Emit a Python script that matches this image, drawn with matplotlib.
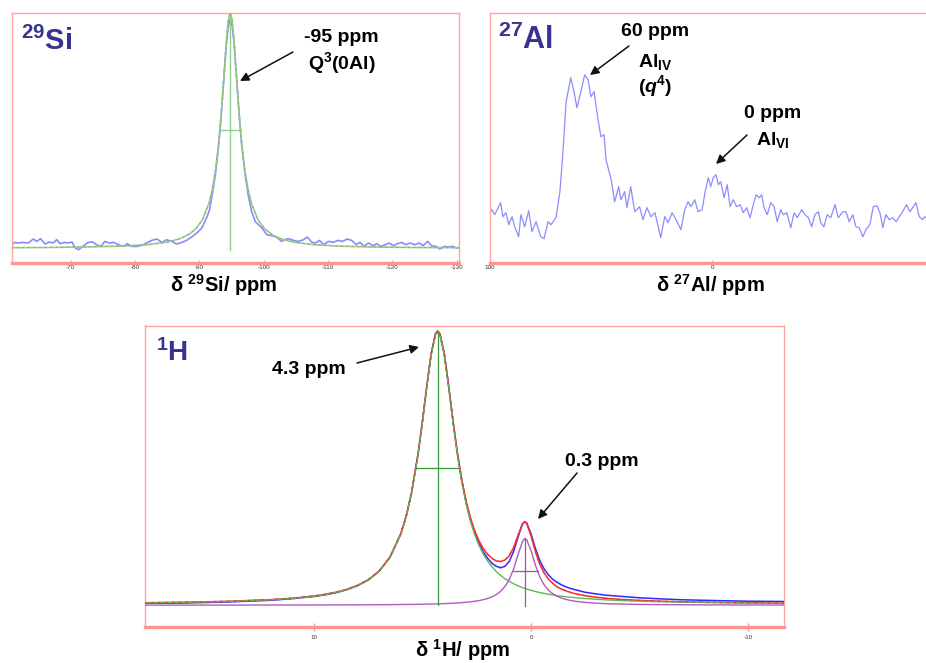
import matplotlib
matplotlib.use("Agg")
import matplotlib.pyplot as plt
from matplotlib.patches import FancyArrowPatch

plt.rcParams['font.family'] = ['Liberation Sans', 'DejaVu Sans']
plt.rcParams['mathtext.fontset'] = 'custom'
plt.rcParams['mathtext.rm'] = 'Liberation Sans'
plt.rcParams['mathtext.it'] = 'Liberation Sans:italic'
plt.rcParams['mathtext.bf'] = 'Liberation Sans:bold'
plt.rcParams['mathtext.bfit'] = 'Liberation Sans:italic:bold'
plt.rcParams['mathtext.sf'] = 'Liberation Sans'

si_ppm = [-60.8, -61.3, -61.9, -62.6, -63.4, -64.2, -64.7, -65.3, -66.0, -66.7,
          -67.3, -67.8, -68.4, -69.0, -69.6, -70.2, -70.7, -71.2, -71.9, -72.7,
          -73.4, -74.0, -74.7, -75.3, -76.0, -76.7, -77.4, -78.2, -78.8, -79.5,
          -80.3, -81.0, -81.8, -82.6, -83.4, -84.2, -84.9, -85.7, -86.5, -87.3,
          -88.0, -88.8, -89.6, -90.4, -91.2, -91.6, -92.0, -92.5, -93.0, -93.4,
          -93.8, -94.2, -94.5, -94.8, -95.1, -95.4, -95.8, -96.2, -96.6, -97.1,
          -97.6, -98.1, -98.7, -99.7, -100.5, -101.3, -102.0, -102.8, -103.5, -104.1,
          -104.6, -105.4, -106.2, -106.8, -107.5, -108.1, -108.7, -109.3, -110.1, -110.8,
          -111.6, -112.3, -113.0, -113.7, -114.4, -115.0, -115.6, -116.3, -117.0, -117.6,
          -118.2, -118.9, -119.5, -120.2, -120.8, -121.5, -122.1, -122.8, -123.5, -124.2,
          -124.8, -125.5, -126.1, -126.8, -127.4, -128.1, -128.7, -129.4, -130.0, -130.4]
si_int = [18, 20.3, 19.7, 20.3, 19.7, 23.7, 21.3, 24, 18.7, 20.7,
          19.7, 23, 19, 20.3, 19.7, 20.7, 14.7, 13, 16.3, 20.3,
          20.7, 18, 16.3, 21.3, 19.7, 20.3, 18, 16.3, 19, 16.3,
          16.3, 17.3, 19.7, 22.3, 23.7, 20.3, 23, 21.3, 18.7, 20.3,
          22.3, 25.7, 29.7, 34.7, 46, 53, 68, 88, 117, 147,
          183, 218, 236, 243, 237, 220, 184, 147, 117, 89,
          68, 52, 41, 35, 28, 27, 25.7, 21.3, 23.7, 23.7,
          22.3, 21.3, 23, 25.7, 20.3, 19.7, 22.3, 18, 21.3, 20.3,
          22.3, 21.3, 23.7, 22.3, 18, 20.3, 16.3, 19.7, 17, 19,
          16.3, 18, 19.7, 17, 19, 20.3, 18, 19.7, 18, 19.7,
          17, 21.3, 17, 16.3, 13.7, 16.3, 15.7, 16.3, 14.7, 15]

# 29Si fitted component
si_fit_ppm = [-60.8, -66, -72, -78, -82, -85, -87, -88.5, -89.5, -90.5,
              -91.5, -92, -92.5, -93, -93.4, -93.8, -94.2, -94.5, -94.8, -95.1,
              -95.4, -95.8, -96.2, -96.6, -97.1, -97.6, -98.1, -99.1, -100.1, -101.5,
              -103, -105, -108, -112, -118, -124, -130.4]
si_fit_int = [15.0, 15.2, 15.7, 16.6, 18.1, 20.6, 24.0, 28.8, 34.2, 43.2,
              59.4, 72.6, 91.5, 118.7, 148.2, 184.2, 221.4, 242.5, 250.5, 242.5,
              221.4, 184.2, 148.2, 118.7, 91.5, 72.6, 59.4, 43.2, 34.2, 27.2,
              23.2, 20.2, 17.9, 16.5, 15.6, 15.2, 15.0]
si_peak = -94.8          # centre (ppm)
si_base = 14.0           # baseline level
si_top = 250.5           # peak maximum
si_half = 132.3          # half-height level
si_fwhm = 3.2            # full width at half maximum (ppm)
si_ticks = [-70, -80, -90, -100, -110, -120, -130]

# ---------------- 27Al spectrum ----------------
al_ppm = [100.0, 99.1, 97.9, 95.2, 94.2, 92.8, 91.6, 90.1, 88.9, 87.1,
          86.1, 84.4, 82.6, 81.1, 79.3, 77.2, 75.7, 73.9, 72.6, 70.3,
          68.6, 67.2, 65.8, 63.7, 62.2, 60.9, 59.2, 57.4, 55.9, 54.6,
          53.2, 51.4, 50.1, 48.7, 47.8, 45.5, 43.9, 42.1, 41.1, 39.4,
          38.4, 36.7, 34.9, 32.7, 31.2, 29.4, 27.6, 25.8, 23.2, 21.4,
          19.9, 18.1, 16.3, 14.1, 12.4, 10.9, 9.6, 7.9, 6.4, 4.6,
          3.3, 1.8, 0.7, -0.4, -1.7, -2.7, -3.8, -5.3, -6.7, -8.0,
          -9.4, -11.0, -12.5, -13.9, -15.5, -17.0, -18.2, -19.7, -21.1, -22.2,
          -23.3, -24.7, -26.3, -27.8, -29.2, -30.8, -31.9, -33.5, -35.3, -36.8,
          -38.2, -40.2, -41.7, -43.2, -44.7, -46.2, -47.7, -48.8, -50.2, -51.7,
          -53.3, -55.2, -56.7, -58.7, -60.1, -61.6, -63.2, -64.6, -66.1, -67.7,
          -69.1, -70.9, -72.4, -74.0, -75.4, -76.7, -78.1, -79.6, -81.2, -82.7,
          -84.1, -85.3, -87.4, -88.9, -90.4, -91.6, -93.1, -94.6, -95.7, -97.0]
al_int = [50, 53, 48, 60, 46, 50, 38, 46, 36, 26,
          48, 36, 52, 31, 41, 26, 24, 41, 38, 45,
          70, 110, 160, 185, 171, 155, 170, 188, 183, 166,
          171, 143, 126, 128, 103, 83, 61, 76, 63, 71,
          55, 76, 51, 56, 43, 55, 46, 50, 25, 46,
          40, 50, 43, 33, 53, 61, 56, 63, 51, 53,
          70, 85, 76, 85, 88, 78, 81, 65, 78, 56,
          63, 56, 58, 50, 55, 45, 56, 68, 65, 68,
          55, 48, 60, 56, 41, 53, 48, 50, 35, 50,
          45, 53, 48, 45, 36, 48, 51, 40, 36, 48,
          45, 58, 45, 51, 51, 41, 48, 36, 35, 26,
          33, 38, 56, 57, 50, 35, 48, 43, 45, 41,
          46, 50, 58, 51, 56, 60, 46, 43, 46, 44]
al_ticks = [100, 0]

# ---------------- 1H spectrum and fit ----------------
h_ppm = [17.8, 16, 14, 12, 11, 10, 9.5, 9, 8.5, 8,
         7.5, 7, 6.5, 6, 5.75, 5.5, 5.2, 5.0, 4.8, 4.6,
         4.4, 4.3, 4.2, 4.0, 3.8, 3.6, 3.4, 3.2, 3.0, 2.8,
         2.6, 2.4, 2.2, 2.0, 1.8, 1.6, 1.4, 1.2, 1.0, 0.8,
         0.6, 0.4, 0.3, 0.2, 0.0, -0.2, -0.4, -0.6, -0.8, -1.0,
         -1.2, -1.4, -1.6, -1.8, -2.1, -2.5, -3, -3.5, -4, -5,
         -6, -7, -8, -9, -10, -11.7]
h_exp = [1.0, 1.3, 2.3, 4.0, 5.6, 7.8, 9.4, 11.5, 14.5, 18.5,
         24.3, 33, 47, 70.5, 88.3, 112, 151, 183.5, 218.5, 250.5,
         270.5, 273, 270.5, 251, 219, 184, 152, 125, 103, 85.5,
         71.5, 61, 52.5, 46, 41, 38, 36.5, 38, 43, 53,
         67, 80, 82.5, 81.5, 70.5, 56, 44, 35.5, 29.5, 25,
         22.0, 19.5, 17.6, 16, 14.2, 12, 10.4, 9, 8.2, 6.5,
         5.4, 4.5, 4.0, 3.5, 3.1, 2.8]
h_sum = [1.55, 2.05, 2.98, 4.67, 6.12, 8.36, 9.96, 12.1, 14.9, 18.9,
         24.6, 33.3, 47.2, 70.6, 88.4, 112.3, 151.2, 183.6, 218.7, 250.7,
         270.6, 273.4, 270.7, 251.1, 219.4, 184.5, 152.5, 125.6, 104.0, 87.0,
         73.8, 63.6, 55.8, 50.0, 45.9, 43.4, 42.8, 44.3, 48.7, 56.8,
         68.8, 80.2, 82.4, 80.9, 68.7, 53.0, 40.3, 31.4, 25.2, 20.9,
         17.4, 15.3, 13.45, 12.0, 10.24, 8.6, 7.04, 5.9, 5.1, 3.9,
         3.1, 2.5, 2.12, 1.8, 1.53, 1.2]
h_comp1 = [1.48, 1.97, 2.86, 4.51, 5.93, 8.12, 9.70, 11.8, 14.59, 18.5,
           24.2, 32.8, 46.6, 69.9, 87.7, 111.5, 150.3, 182.6, 217.6, 249.5,
           269.3, 272, 269.3, 249.5, 217.6, 182.6, 150.3, 123.1, 101.1, 83.7,
           69.9, 59.0, 50.3, 43.2, 37.5, 32.8, 28.9, 25.6, 22.9, 20.5,
           18.5, 16.8, 16.0, 15.3, 14.0, 12.8, 11.8, 10.9, 10.1, 9.4,
           8.43, 8.1, 7.60, 7.1, 6.48, 5.8, 5.01, 4.4, 3.89, 3.1,
           2.54, 2.1, 1.79, 1.5, 1.32, 1.06]
h_comp2 = [-0.83, -0.82, -0.78, -0.74, -0.71, -0.66, -0.64, -0.61, -0.57, -0.53,
           -0.47, -0.41, -0.33, -0.22, -0.16, -0.09, 0.01, 0.09, 0.17, 0.27,
           0.39, 0.45, 0.52, 0.67, 0.85, 1.06, 1.31, 1.61, 1.97, 2.43,
           2.99, 3.70, 4.62, 5.83, 7.47, 9.7, 13.0, 17.8, 24.9, 35.4,
           49.4, 62.5, 65.5, 64.7, 53.8, 39.3, 27.6, 19.6, 14.2, 10.6,
           8.07, 6.27, 4.95, 3.95, 2.86, 1.9, 1.13, 0.64, 0.31, -0.1,
           -0.34, -0.48, -0.57, -0.64, -0.69, -0.74]
h_peaks = [4.3, 0.27]            # component centres (ppm)
h_tops = [272, 66.6]             # component maxima
h_fwhm = [2.0, 1.16]             # component widths (ppm)
h_ticks = [10, 0, -10]

# ---------------- figure ----------------
W, H = 926, 663
fig = plt.figure(figsize=(W / 100, H / 100), dpi=100)
FRAME = '#ffa3a3'
AXLINE = '#ff9494'
TITLE = '#35358f'


def panel(l, t, r, b):
    ax = fig.add_axes([l / W, 1 - b / H, (r - l) / W, (b - t) / H])
    for s in ['left', 'right', 'top']:
        ax.spines[s].set_color(FRAME)
        ax.spines[s].set_linewidth(1.0)
    ax.spines['bottom'].set_color(AXLINE)
    ax.spines['bottom'].set_linewidth(2.4)
    ax.set_yticks([])
    ax.tick_params(axis='x', direction='in', length=2, width=0.8, color=AXLINE,
                   labelsize=4.5, labelcolor='#333333', pad=2)
    return ax


def txt(x, y, s, **kw):
    fig.text(x / W, 1 - y / H, s, **kw)


def arrow(x0, y0, x1, y1):
    fig.add_artist(FancyArrowPatch((x0 / W, 1 - y0 / H), (x1 / W, 1 - y1 / H),
                                   transform=fig.transFigure, arrowstyle='-|>',
                                   mutation_scale=13, lw=1.1, color='#111111',
                                   shrinkA=0, shrinkB=0))


# ----- 29Si panel -----
ax1 = panel(11.7, 12.7, 459.3, 262.7)
ax1.plot(si_ppm, si_int, color='#8a8aff', lw=1.2, zorder=2)
ax1.plot(si_fit_ppm, si_fit_int, color='#8fcf8f', lw=1.2, zorder=3)
ax1.plot(si_fit_ppm, si_fit_int, color='#d08050', lw=0.8, ls=(0, (1, 4)), zorder=4)
ax1.plot([si_peak, si_peak], [si_base - 1, si_top], color='#8fcf8f', lw=1.0, zorder=3)
ax1.plot([si_peak + si_fwhm / 2, si_peak - si_fwhm / 2], [si_half, si_half],
         color='#8fcf8f', lw=1.0, zorder=3)
ax1.set_xlim(-60.82, -130.43)
ax1.set_ylim(0, 250)
ax1.set_xticks(si_ticks)
ax1.set_xticklabels([str(t) for t in si_ticks])

# ----- 27Al panel -----
ax2 = panel(490, 12.7, 934.6, 262.7)
ax2.plot(al_ppm, al_int, color='#8c8cff', lw=0.9)
ax2.set_xlim(100, -100)
ax2.set_ylim(0, 250)
ax2.set_xticks(al_ticks)
ax2.set_xticklabels([str(t) for t in al_ticks])

# ----- 1H panel -----
ax3 = panel(145, 325.5, 784, 626.5)
ax3.plot(h_ppm, h_exp, color='#2b2bff', lw=1.1, zorder=2)
ax3.plot(h_ppm, h_sum, color='#ff2a2a', lw=1.1, zorder=3)
ax3.plot(h_ppm, h_comp1, color='#5cb85c', lw=1.0, zorder=4)
ax3.plot(h_ppm, h_sum, color='#ff2a2a', lw=0.9, ls=(0, (1.5, 4)), zorder=5)
ax3.plot(h_ppm, h_comp2, color='#b05cc0', lw=1.0, zorder=4)
ax3.plot([h_peaks[0], h_peaks[0]], [-1, h_tops[0]], color='#3a9a3a', lw=0.9, zorder=4)
ax3.plot([h_peaks[0] + h_fwhm[0] / 2, h_peaks[0] - h_fwhm[0] / 2],
         [h_tops[0] / 2, h_tops[0] / 2], color='#3a9a3a', lw=0.9, zorder=4)
ax3.plot([h_peaks[1], h_peaks[1]], [-2, h_tops[1]], color='#a050b0', lw=0.9, zorder=4)
ax3.plot([h_peaks[1] + h_fwhm[1] / 2, h_peaks[1] - h_fwhm[1] / 2],
         [h_tops[1] / 2, h_tops[1] / 2], color='#a050b0', lw=0.9, zorder=4)
ax3.set_xlim(17.79, -11.66)
ax3.set_ylim(-22.2, 278.8)
ax3.set_xticks(h_ticks)
ax3.set_xticklabels([str(t) for t in h_ticks])
ax3.tick_params(axis='x', direction='inout', length=6, width=1.0, pad=3)

# ----- titles -----
txt(21, 50, r'$\mathbf{{}^{29}Si}$', color=TITLE, fontsize=21, ha='left', va='baseline')
txt(498, 49, r'$\mathbf{{}^{27}Al}$', color=TITLE, fontsize=22, ha='left', va='baseline')
txt(156, 361, r'$\mathbf{{}^{1}H}$', color=TITLE, fontsize=20, ha='left', va='baseline')

# ----- axis labels -----
lab = dict(fontsize=14.5, fontweight='bold', ha='center', va='center', color='black')
txt(224, 285, r'δ $^{\mathbf{29}}$Si/ ppm', **lab)
txt(710, 285, r'δ $^{\mathbf{27}}$Al/ ppm', **lab)
txt(463, 650, r'δ $^{\mathbf{1}}$H/ ppm', **lab)

# ----- annotations -----
ann = dict(fontsize=14, fontweight='bold', ha='center', va='center', color='black')
txt(341, 37, '-95 ppm', **ann)
txt(342, 63, r'$\mathbf{Q^{3}(0Al)}$', **ann)
arrow(293, 52, 240, 81)

txt(655, 32, '60 ppm', **ann)
txt(655, 62, r'$\mathbf{Al_{IV}}$', **ann)
txt(655, 86, r'$\mathbf{(}\mathbfit{q}^{\mathbf{4}}\mathbf{)}$', **ann)
arrow(629, 46, 590, 75)

txt(773, 113, '0 ppm', **ann)
txt(773, 140, r'$\mathbf{Al_{VI}}$', **ann)
arrow(747, 135, 716, 164)

txt(309, 370, '4.3 ppm', **ann)
arrow(357, 363, 419, 347)

txt(602, 462, '0.3 ppm', **ann)
arrow(577, 473, 538, 519)

fig.savefig('out.png', dpi=100)
